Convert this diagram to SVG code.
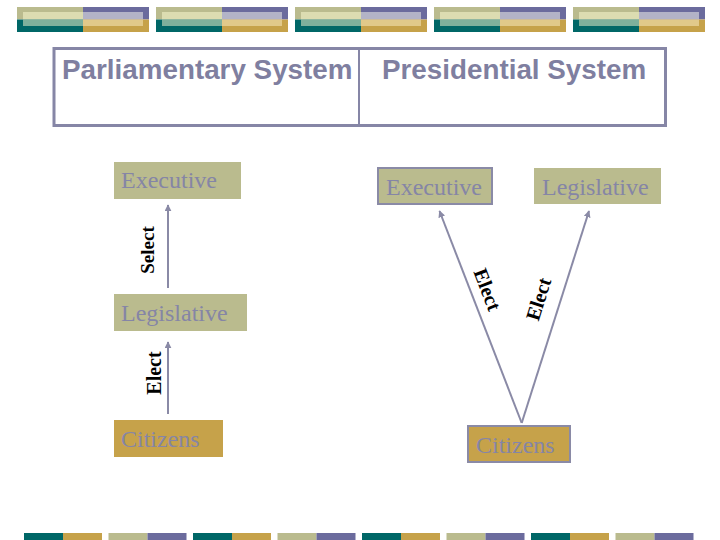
<svg xmlns="http://www.w3.org/2000/svg" xmlns:xlink="http://www.w3.org/1999/xlink" width="720" height="540" viewBox="0 0 720 540">
<style>
.olive{fill:#babb8e}
.gold{fill:#c6a24a}
.teal{fill:#006767}
.purp{fill:#6b6b9d}
.lbl{font-family:"Liberation Serif","Times New Roman",serif;font-size:24px;fill:#8585a6}
.elab{font-family:"Liberation Serif","Times New Roman",serif;font-size:20px;font-weight:bold;fill:#000}
.title{font-family:"Liberation Sans",Arial,sans-serif;font-size:27.8px;font-weight:bold;fill:#7f7fa0}
.conn{stroke:#8a8aa6;stroke-width:2;fill:none}
.bord{stroke:#8a8aa6;stroke-width:2}
</style>
<defs>
<g id="tile">
<rect x="0" y="0" width="66" height="12.5" class="olive"/>
<rect x="66" y="0" width="66" height="12.5" class="purp"/>
<rect x="0" y="12.5" width="66" height="12.5" class="teal"/>
<rect x="66" y="12.5" width="66" height="12.5" class="gold"/>
<rect x="6" y="5" width="60" height="7.5" fill="#dcdcb1"/>
<rect x="66" y="5" width="60" height="7.5" fill="#b3b3c7"/>
<rect x="6" y="12.5" width="60" height="6.5" fill="#7eb09c"/>
<rect x="66" y="12.5" width="60" height="6.5" fill="#e1c98a"/>
</g>
<marker id="ah" viewBox="0 0 10 10" refX="9" refY="5" markerWidth="3.5" markerHeight="3.5" orient="auto" markerUnits="strokeWidth">
<path d="M0,0 L10,5 L0,10 z" fill="#8a8aa6"/>
</marker>
</defs>
<rect width="720" height="540" fill="#ffffff"/>
<g id="banner">
<use xlink:href="#tile" x="17" y="7"/>
<use xlink:href="#tile" x="156" y="7"/>
<use xlink:href="#tile" x="295" y="7"/>
<use xlink:href="#tile" x="434" y="7"/>
<use xlink:href="#tile" x="573" y="7"/>
</g>
<g id="footer">
<rect x="24" y="533" width="39" height="7" class="teal"/><rect x="63" y="533" width="39" height="7" class="gold"/>
<rect x="108.5" y="533" width="39" height="7" class="olive"/><rect x="147.5" y="533" width="39" height="7" class="purp"/>
<rect x="193" y="533" width="39" height="7" class="teal"/><rect x="232" y="533" width="39" height="7" class="gold"/>
<rect x="277.5" y="533" width="39" height="7" class="olive"/><rect x="316.5" y="533" width="39" height="7" class="purp"/>
<rect x="362" y="533" width="39" height="7" class="teal"/><rect x="401" y="533" width="39" height="7" class="gold"/>
<rect x="446.5" y="533" width="39" height="7" class="olive"/><rect x="485.5" y="533" width="39" height="7" class="purp"/>
<rect x="531" y="533" width="39" height="7" class="teal"/><rect x="570" y="533" width="39" height="7" class="gold"/>
<rect x="615.5" y="533" width="39" height="7" class="olive"/><rect x="654.5" y="533" width="39" height="7" class="purp"/>
</g>
<g id="header">
<rect x="54" y="48.5" width="611.5" height="77" fill="none" stroke="#8686a6" stroke-width="3"/>
<line x1="359" y1="48.5" x2="359" y2="125.5" stroke="#8686a6" stroke-width="2"/>
<text class="title" x="62" y="79">Parliamentary System</text>
<text class="title" x="382" y="79">Presidential System</text>
</g>
<g id="connectors">
<line class="conn" x1="168" y1="288" x2="168" y2="205" marker-end="url(#ah)"/>
<line class="conn" x1="168" y1="414" x2="168" y2="342" marker-end="url(#ah)"/>
<line class="conn" x1="521.7" y1="423" x2="439.5" y2="211" marker-end="url(#ah)"/>
<line class="conn" x1="521.7" y1="423" x2="589" y2="211" marker-end="url(#ah)"/>
<text class="elab" transform="translate(154,250) rotate(-90)" text-anchor="middle" style="font-size:19px">Select</text>
<text class="elab" transform="translate(161,373) rotate(-90)" text-anchor="middle">Elect</text>
<text class="elab" transform="translate(481,292) rotate(68.8)" text-anchor="middle">Elect</text>
<text class="elab" transform="translate(545,301) rotate(-72.4)" text-anchor="middle">Elect</text>
</g>
<g id="p-executive">
<rect x="114" y="162" width="127" height="37" class="olive"/>
<text class="lbl" x="121" y="188">Executive</text>
</g>
<g id="p-legislative">
<rect x="114" y="294" width="133" height="37" class="olive"/>
<text class="lbl" x="121" y="321">Legislative</text>
</g>
<g id="p-citizens">
<rect x="114" y="420" width="109" height="37" class="gold"/>
<text class="lbl" x="121" y="447">Citizens</text>
</g>
<g id="r-executive">
<rect x="378" y="168" width="114" height="36" class="olive bord"/>
<text class="lbl" x="386" y="195">Executive</text>
</g>
<g id="r-legislative">
<rect x="534" y="168" width="127" height="36" class="olive"/>
<text class="lbl" x="542" y="195">Legislative</text>
</g>
<g id="r-citizens">
<rect x="468" y="426" width="102" height="36" class="gold bord"/>
<text class="lbl" x="476" y="453">Citizens</text>
</g>
</svg>
